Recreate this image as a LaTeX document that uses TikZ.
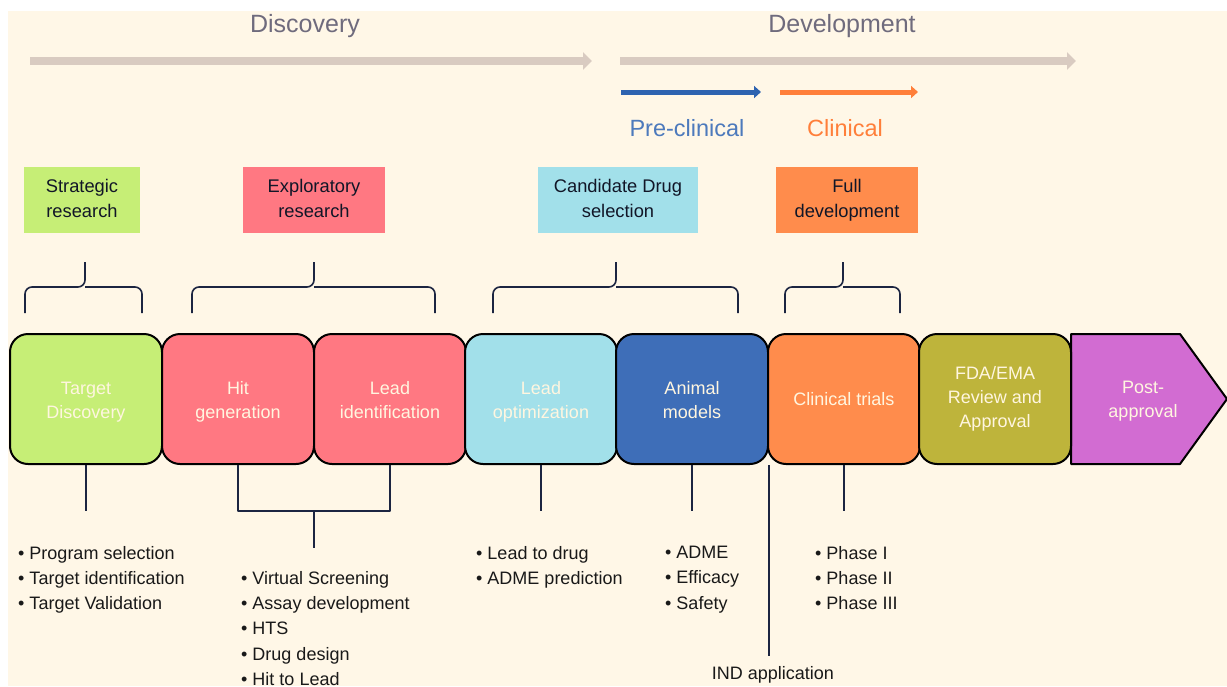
\documentclass[tikz,border=0pt]{standalone}
\usepackage{fontspec}
\setmainfont{Liberation Sans}
\usepackage{tikz}
\usetikzlibrary{arrows.meta}
\definecolor{cream}{HTML}{FFF7E7}
\definecolor{phase}{HTML}{D9CBC1}
\definecolor{headtxt}{HTML}{6F6B7D}
\definecolor{preblue}{HTML}{2E63B0}
\definecolor{clinor}{HTML}{FF7F3A}
\definecolor{lime}{HTML}{C6EE76}
\definecolor{rose}{HTML}{FF7882}
\definecolor{aqua}{HTML}{A2E0EA}
\definecolor{navy}{HTML}{3E6EB8}
\definecolor{tang}{HTML}{FF8C4C}
\definecolor{olive}{HTML}{BEB43B}
\definecolor{orchid}{HTML}{D26CD2}
\definecolor{ink}{HTML}{1C2541}
\definecolor{boxtxt}{HTML}{FFF6E0}
\newcommand{\lift}{\rule{0pt}{19pt}}
\tikzset{
  stage/.style={draw=black,line width=2pt,rounded corners=18pt,
    minimum width=152pt,minimum height=130pt,align=center,
    text=boxtxt,font=\fontsize{18}{24}\selectfont},
  tag/.style={minimum height=66pt,align=center,inner sep=0pt,
    text=ink!60!black,font=\fontsize{18.3}{25}\selectfont,
    execute at end node={\vphantom{p}}},
  bullets/.style={anchor=north west,align=left,inner sep=0pt,text=black!90,
    font=\fontsize{18}{25.3}\selectfont},
  link/.style={draw=ink,line width=1.6pt},
  hbrace/.style={draw=ink,line width=1.6pt,rounded corners=7pt}
}
\newcommand{\hbr}[3]{% left, tip, right
  \draw[hbrace] (#1,313) -- (#1,287) -- (#2,287) -- (#2,262);
  \draw[hbrace] (#3,313) -- (#3,287) -- (#2,287);}

\begin{document}
\begin{tikzpicture}[x=1pt,y=-1pt,line join=round]
  \useasboundingbox (0,0) rectangle (1227,686);
  \fill[cream] (8,11) rectangle (1227,686);
  % phase headings and arrows
  \node[text=headtxt,font=\fontsize{25}{30}\selectfont] (disc) at (305,26) {Discovery};
  \node[text=headtxt,font=\fontsize{25}{30}\selectfont] (dev) at (842,26) {Development};
  \coordinate (d0) at (30,61);  \coordinate (d1) at (592,61);
  \coordinate (v0) at (620,61); \coordinate (v1) at (1076,61);
  \draw[phase,line width=8pt,-{Triangle[length=9pt,width=17pt]}] (d0) -- (d1);
  \draw[phase,line width=8pt,-{Triangle[length=9pt,width=17pt]}] (v0) -- (v1);
  \coordinate (p0) at (621,92); \coordinate (p1) at (761,92);
  \coordinate (c0) at (780,92); \coordinate (c1) at (918,92);
  \draw[preblue,line width=5pt,-{Triangle[length=7pt,width=12pt]}] (p0) -- (p1);
  \draw[clinor,line width=5pt,-{Triangle[length=7pt,width=12pt]}] (c0) -- (c1);
  \node[text=preblue!85!white,font=\fontsize{23.5}{28}\selectfont] (pre) at (687,128) {Pre-clinical};
  \node[text=clinor,font=\fontsize{23.5}{28}\selectfont] (clin) at (845,128) {Clinical};
  % research stage tags
  \node[tag,fill=lime,minimum width=116pt] (sr) at (82,200) {Strategic\\research};
  \node[tag,fill=rose,minimum width=142pt] (er) at (314,200) {Exploratory\\research};
  \node[tag,fill=aqua,minimum width=160pt] (cd) at (618,200) {Candidate Drug\\selection};
  \node[tag,fill=tang,minimum width=142pt] (fd) at (847,200) {Full\\development};
  % braces
  \hbr{25}{85}{142}
  \hbr{192}{314}{435}
  \hbr{493}{616}{738}
  \hbr{785}{843}{900}
  % pipeline
  \draw[fill=orchid,line width=2pt] (1071,334) -- (1180,334) -- (1227,399)
    -- (1180,464) -- (1071,464) -- cycle;
  \node[text=boxtxt,align=center,font=\fontsize{18}{24}\selectfont] (pa) at (1143,401) {Post-\\approval};
  \foreach \n/\x/\c/\t in {
      td/86/lime/{\lift Target\\Discovery\vphantom{p}},
      hg/238/rose/{\lift Hit\\generation\vphantom{p}},
      li/390/rose/{\lift Lead\\identification\vphantom{p}},
      lo/541/aqua/{\lift Lead\\optimization\vphantom{p}},
      am/692/navy/{\lift Animal\\models\vphantom{p}},
      ct/844/tang/{Clinical trials},
      fda/995/olive/{FDA/EMA\\Review and\\Approval}}
    \node[stage,fill=\c] (\n) at (\x,399) {\t};
  % drop lines
  \coordinate (hgli) at (314,510);
  \draw[link] (td.south) -- ++(0,46);
  \draw[link] (hg.south) -- ++(0,46) -| (li.south);
  \draw[link] (hgli) -- ++(0,38);
  \draw[link] (lo.south) -- ++(0,46);
  \draw[link] (am.south) -- ++(0,46);
  \draw[link] (ct.south) -- ++(0,46);
  \draw[link] (am.south east) -- ++(0,191) coordinate (ind);
  % bullet lists
  \node[bullets] (l1) at (18,546) {\textbullet\ Program selection\\\textbullet\ Target identification\\\textbullet\ Target Validation};
  \node[bullets] (l2) at (241,571) {\textbullet\ Virtual Screening\\\textbullet\ Assay development\\\textbullet\ HTS\\\textbullet\ Drug design\\\textbullet\ Hit to Lead};
  \node[bullets] (l3) at (476,546) {\textbullet\ Lead to drug\\\textbullet\ ADME prediction};
  \node[bullets] (l4) at (665,546) {\textbullet\ ADME\\\textbullet\ Efficacy\\\textbullet\ Safety};
  \node[bullets] (l5) at (815,546) {\textbullet\ Phase I\\\textbullet\ Phase II\\\textbullet\ Phase III};
  \node[text=black!90,font=\fontsize{18}{20}\selectfont] (indtxt) at (773,675) {IND application};
\end{tikzpicture}
\end{document}
